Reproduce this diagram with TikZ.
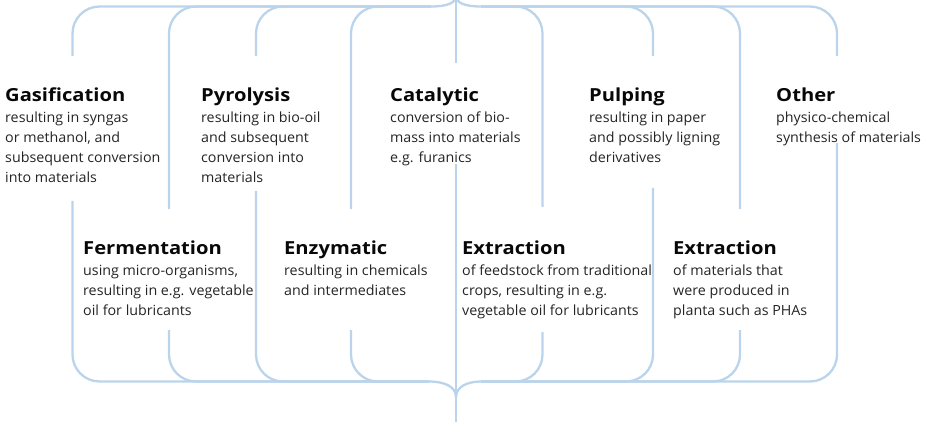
\documentclass[tikz,border=0pt]{standalone}
\usepackage{fontspec}
\setmainfont{Open Sans}[FakeStretch=1.02]
\newfontfamily\ttlfont{Open Sans}[FakeStretch=1.12]
\definecolor{brace}{RGB}{186,212,235}
\definecolor{ttl}{RGB}{8,8,8}
\definecolor{bdy}{RGB}{36,36,36}
\newcommand{\txtblock}[2]{\parbox[t]{260pt}{{\ttlfont\bfseries\fontsize{18}{21}\selectfont\color{ttl}#1\par}\vspace{1pt}{\fontsize{14}{20}\selectfont\color{bdy}#2\par}}}
\begin{document}
\begin{tikzpicture}[x=1pt,y=-1pt,
  brline/.style={draw=brace, line width=2.3pt, rounded corners=27pt},
  tipline/.style={draw=brace, line width=2.3pt},
  txt/.style={anchor=base west, inner sep=0pt}]
\useasboundingbox (0,0) rectangle (929,422);
\begin{scope}
\clip (0,0) rectangle (929,422);
% top brace
\foreach \x/\y in {72.5/56,169/209,256/56,351/209}
  \draw[brline] (\x,\y) |- (431,6.5);
\foreach \x/\y in {542.5/207,653/56,740/209,837/56}
  \draw[brline] (\x,\y) |- (481,6.5);
\coordinate (tl) at (431,6.5);
\coordinate (tr) at (481,6.5);
\coordinate (ttop) at (456,-4);
\draw[tipline] (tl) .. controls (447,6.5) and (456,3) .. (ttop);
\draw[tipline] (tr) .. controls (465,6.5) and (456,3) .. (ttop);
\draw[tipline] (456,0) -- (456,63);
% bottom brace
\foreach \x/\y in {72.5/201,169/330,256/191,351/330}
  \draw[brline] (\x,\y) |- (429,381.5);
\foreach \x/\y in {542.5/332,653/188,740/330,837/143}
  \draw[brline] (\x,\y) |- (481,381.5);
\coordinate (bl) at (429,381.5);
\coordinate (br) at (481,381.5);
\coordinate (bmid) at (456,397);
\draw[tipline] (bl) .. controls (445,381.5) and (456,387) .. (bmid);
\draw[tipline] (br) .. controls (467,381.5) and (456,387) .. (bmid);
\draw[tipline] (456,164) -- (456,422);
\end{scope}
% texts
\node[txt] (gas) at (5,88) {\txtblock{Gasification}{resulting in syngas\\or methanol, and\\subsequent conversion\\into materials}};
\node[txt] (pyr) at (201,88) {\txtblock{Pyrolysis}{resulting in bio-oil\\and subsequent\\conversion into\\materials}};
\node[txt] (cat) at (390,88) {\txtblock{Catalytic}{conversion of bio-\\mass into materials\\e.g. furanics}};
\node[txt] (pul) at (589,88) {\txtblock{Pulping}{resulting in paper\\and possibly ligning\\derivatives}};
\node[txt] (oth) at (776,88) {\txtblock{Other}{physico-chemical\\synthesis of materials}};
\node[txt] (fer) at (83,241) {\txtblock{Fermentation}{using micro-organisms,\\resulting in e.g. vegetable\\oil for lubricants}};
\node[txt] (enz) at (284,241) {\txtblock{Enzymatic}{resulting in chemicals\\and intermediates}};
\node[txt] (ext1) at (462,241) {\txtblock{Extraction}{of feedstock from traditional\\crops, resulting in e.g.\\vegetable oil for lubricants}};
\node[txt] (ext2) at (673,241) {\txtblock{Extraction}{of materials that\\were produced in\\planta such as PHAs}};
\end{tikzpicture}
\end{document}
